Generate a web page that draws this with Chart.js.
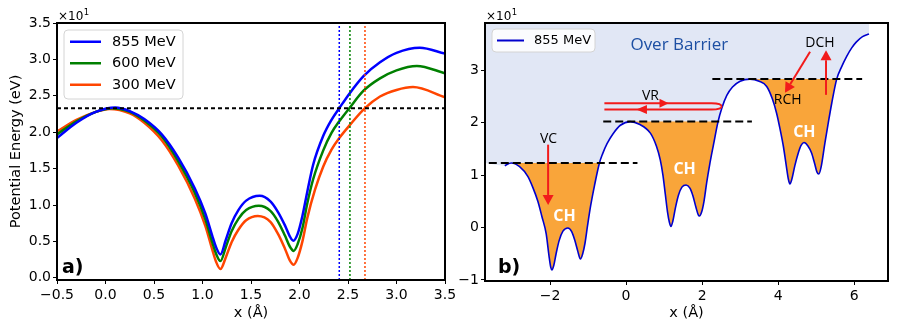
<!DOCTYPE html>
<html>
<head>
<meta charset="utf-8">
<script src="https://cdn.jsdelivr.net/npm/chart.js@4.4.0/dist/chart.umd.min.js"></script>
<style>
  html, body { margin: 0; padding: 0; background: #fff; }
  #wrap { position: relative; width: 897px; height: 333px; overflow: hidden; }
  #chartA { position: absolute; left: 0; top: 0; }
  #chartB { position: absolute; left: 450px; top: 0; }
</style>
</head>
<body>
<div id="wrap">
  <canvas id="chartA" width="470" height="333"></canvas>
  <canvas id="chartB" width="447" height="333"></canvas>
</div>
<script>
// ---- panel a: potential (x10 eV) for three beam energies ----
const labelsA = ['855 MeV', '600 MeV', '300 MeV'];

const x855 = [-0.5, -0.3, -0.1, 0.1, 0.25, 0.4, 0.58, 0.75, 0.92, 1.03, 1.10, 1.14, 1.185, 1.24, 1.30, 1.37, 1.45, 1.59, 1.70, 1.78, 1.85, 1.90, 1.936, 1.98, 2.03, 2.08, 2.14, 2.245, 2.33, 2.41, 2.52, 2.66, 2.83, 3.0, 3.24, 3.5];
const y855 = [1.92, 2.13, 2.28, 2.34, 2.29, 2.18, 1.97, 1.65, 1.23, 0.88, 0.58, 0.42, 0.32, 0.52, 0.75, 0.93, 1.06, 1.127, 1.05, 0.90, 0.72, 0.57, 0.51, 0.60, 0.85, 1.18, 1.55, 1.95, 2.17, 2.33, 2.54, 2.77, 2.96, 3.09, 3.16, 3.08];

const x600 = [-0.5, -0.3, -0.1, 0.07, 0.25, 0.4, 0.58, 0.75, 0.92, 1.03, 1.10, 1.14, 1.185, 1.24, 1.30, 1.37, 1.45, 1.58, 1.70, 1.78, 1.85, 1.90, 1.94, 1.98, 2.03, 2.08, 2.14, 2.245, 2.33, 2.41, 2.52, 2.66, 2.83, 3.0, 3.21, 3.5];
const y600 = [1.97, 2.15, 2.28, 2.33, 2.28, 2.16, 1.94, 1.60, 1.17, 0.80, 0.49, 0.33, 0.23, 0.42, 0.64, 0.81, 0.93, 0.99, 0.92, 0.77, 0.58, 0.43, 0.37, 0.46, 0.68, 1.02, 1.35, 1.75, 1.99, 2.15, 2.34, 2.57, 2.74, 2.85, 2.91, 2.81];

const x300 = [-0.5, -0.3, -0.1, 0.04, 0.25, 0.4, 0.58, 0.75, 0.92, 1.03, 1.10, 1.14, 1.185, 1.24, 1.30, 1.37, 1.45, 1.57, 1.70, 1.78, 1.85, 1.90, 1.94, 1.98, 2.03, 2.08, 2.16, 2.245, 2.33, 2.41, 2.52, 2.675, 2.83, 3.0, 3.17, 3.5];
const y300 = [2.01, 2.17, 2.28, 2.32, 2.26, 2.13, 1.89, 1.54, 1.09, 0.71, 0.39, 0.22, 0.12, 0.28, 0.49, 0.66, 0.79, 0.85, 0.77, 0.60, 0.40, 0.24, 0.18, 0.27, 0.50, 0.82, 1.21, 1.53, 1.76, 1.92, 2.10, 2.33, 2.49, 2.58, 2.62, 2.48];

const barrierA = 2.33;                 // dotted horizontal line
const crossA = [2.41, 2.52, 2.675];    // dotted vertical lines (855, 600, 300)
const colorsA = ['#0000ff', '#008000', '#ff4500'];
const xTicksA = [-0.5, 0, 0.5, 1, 1.5, 2, 2.5, 3, 3.5];
const yTicksA = [0, 0.5, 1, 1.5, 2, 2.5, 3, 3.5];
const xLimA = [-0.5, 3.5];
const yLimA = [-0.03, 3.5];

// ---- panel b: 855 MeV potential over three planes ----
const xCurveB = [-3.19, -3.02, -2.80, -2.58, -2.45, -2.32, -2.21, -2.10, -2.03, -1.98, -1.95, -1.90, -1.84, -1.76, -1.66, -1.53, -1.43, -1.35, -1.27, -1.20, -1.14, -1.08, -1.01, -0.93, -0.83, -0.70, -0.62, -0.50, -0.35, -0.15, 0.11, 0.35, 0.64, 0.80, 0.90, 0.97, 1.03, 1.09, 1.14, 1.18, 1.23, 1.30, 1.38, 1.47, 1.58, 1.68, 1.76, 1.84, 1.90, 1.93, 1.99, 2.05, 2.12, 2.20, 2.30, 2.42, 2.52, 2.65, 2.80, 3.00, 3.26, 3.50, 3.70, 3.85, 3.96, 4.05, 4.14, 4.21, 4.27, 4.31, 4.36, 4.44, 4.53, 4.60, 4.68, 4.78, 4.88, 4.96, 5.02, 5.07, 5.13, 5.23, 5.32, 5.41, 5.54, 5.66, 5.80, 5.94, 6.06, 6.22, 6.39];
const yCurveB = [1.18, 1.23, 1.16, 0.97, 0.76, 0.50, 0.20, -0.12, -0.52, -0.76, -0.81, -0.72, -0.50, -0.25, -0.07, -0.01, -0.08, -0.24, -0.45, -0.60, -0.50, -0.30, 0.05, 0.42, 0.80, 1.23, 1.40, 1.60, 1.78, 1.95, 2.02, 1.97, 1.80, 1.55, 1.29, 1.00, 0.65, 0.30, 0.10, 0.02, 0.12, 0.38, 0.62, 0.77, 0.81, 0.75, 0.60, 0.38, 0.24, 0.22, 0.30, 0.50, 0.85, 1.20, 1.58, 2.02, 2.28, 2.52, 2.68, 2.79, 2.83, 2.79, 2.69, 2.45, 2.18, 1.88, 1.54, 1.20, 0.92, 0.83, 0.92, 1.18, 1.42, 1.56, 1.62, 1.56, 1.42, 1.22, 1.06, 1.02, 1.15, 1.61, 2.00, 2.37, 2.83, 3.05, 3.26, 3.43, 3.54, 3.64, 3.69];

const levelY = [1.23, 2.02, 2.83];       // dashed barrier levels
const levelFrom = [-3.61, -0.60, 2.27];
const levelTo = [0.30, 3.31, 6.21];
const wellFrom = [-3.02, 0.11, 3.26];    // orange channeling regions
const wellTo = [-0.70, 2.42, 5.54];
const xTicksB = [-2, 0, 2, 4, 6];
const yTicksB = [-1, 0, 1, 2, 3];
const xLimB = [-3.71, 6.89];
const yLimB = [-1.02, 3.9];

Chart.defaults.font.family = '"DejaVu Sans", sans-serif';
Chart.defaults.color = '#000';

const pts = (xs, ys) => xs.map((x, i) => ({x: x, y: ys[i]}));
const fmtMinus = s => s.replace('-', '\u2212');

function axes(xLim, yLim, xTicks, yTicks, xDigits, yDigits, yWidth, xHeight, yTitle) {
    return {
        x: {
            type: 'linear', min: xLim[0], max: xLim[1], bounds: 'data',
            afterBuildTicks: s => { s.ticks = xTicks.map(v => ({value: v})); },
            afterFit: s => { s.height = xHeight; },
            ticks: { callback: v => fmtMinus(v.toFixed(xDigits)), font: {size: 14}, padding: 3, maxRotation: 0, autoSkip: false },
            grid: { drawOnChartArea: false, tickLength: 4, color: '#000' },
            border: { display: false },
            title: { display: true, text: 'x (Å)', font: {size: 14.5}, padding: {top: 0, bottom: 11} }
        },
        y: {
            type: 'linear', min: yLim[0], max: yLim[1], bounds: 'data',
            afterBuildTicks: s => { s.ticks = yTicks.map(v => ({value: v})); },
            afterFit: s => { s.width = yWidth; },
            ticks: { callback: v => fmtMinus(v.toFixed(yDigits)), font: {size: 14}, padding: 2 },
            grid: { drawOnChartArea: false, tickLength: 4, color: '#000' },
            border: { display: false },
            title: { display: !!yTitle, text: yTitle, font: {size: 14.5}, padding: {top: 8, bottom: 0} }
        }
    };
}

function offsetText(ctx, x, y) {
    ctx.fillStyle = '#000';
    ctx.textAlign = 'left';
    ctx.textBaseline = 'alphabetic';
    ctx.font = '12px "DejaVu Sans"';
    ctx.fillText('\u00d710', x, y);
    const w = ctx.measureText('\u00d710').width;
    ctx.font = '8.5px "DejaVu Sans"';
    ctx.fillText('1', x + w + 0.5, y - 5);
}

function panelLabel(ctx, text, x, y) {
    ctx.fillStyle = '#000';
    ctx.textAlign = 'left';
    ctx.textBaseline = 'alphabetic';
    ctx.font = 'bold 19px "DejaVu Sans"';
    ctx.fillText(text, x, y);
}

function legendBox(ctx, chart, box, rowH, lineX, textX, font, lw) {
    ctx.save();
    ctx.beginPath();
    ctx.roundRect(box[0], box[1], box[2], box[3], 4);
    ctx.fillStyle = 'rgba(255,255,255,0.85)';
    ctx.fill();
    ctx.strokeStyle = '#d4d4d4';
    ctx.lineWidth = 1;
    ctx.stroke();
    chart.data.datasets.filter(d => d.inLegend).forEach((d, i) => {
        const y = box[1] + rowH / 2 + 1 + i * rowH;
        ctx.strokeStyle = d.borderColor;
        ctx.lineWidth = lw;
        ctx.beginPath();
        ctx.moveTo(lineX[0], y);
        ctx.lineTo(lineX[1], y);
        ctx.stroke();
        ctx.fillStyle = '#000';
        ctx.font = font;
        ctx.textAlign = 'left';
        ctx.textBaseline = 'middle';
        ctx.fillText(d.label, textX, y);
    });
    ctx.restore();
}

const framePlugin = {
    id: 'frame',
    afterDraw(chart) {
        const {ctx, chartArea: a} = chart;
        ctx.save();
        ctx.strokeStyle = '#000';
        ctx.lineWidth = 2;
        ctx.strokeRect(a.left, a.top, a.right - a.left, a.bottom - a.top);
        offsetText(ctx, a.left + 1, 19.5);
        ctx.restore();
    }
};

// panel a datasets
const curvesA = [[x855, y855], [x600, y600], [x300, y300]].map((c, i) => ({
    label: labelsA[i],
    inLegend: true,
    data: pts(c[0], c[1]),
    borderColor: colorsA[i],
    borderWidth: 2.5,
    pointRadius: 0,
    cubicInterpolationMode: 'monotone',
    order: 1
}));
const crossLinesA = crossA.map((x, i) => ({
    data: [{x: x, y: yLimA[0]}, {x: x, y: yLimA[1]}],
    borderColor: colorsA[i],
    borderWidth: 1.5,
    borderDash: [2, 2],
    pointRadius: 0,
    order: 0
}));
const barrierLineA = {
    data: [{x: xLimA[0], y: barrierA}, {x: xLimA[1], y: barrierA}],
    borderColor: '#000',
    borderWidth: 2,
    borderDash: [4, 3],
    pointRadius: 0,
    order: 0
};

new Chart(document.getElementById('chartA'), {
    type: 'line',
    data: { datasets: [...curvesA, barrierLineA, ...crossLinesA] },
    options: {
        responsive: false,
        animation: false,
        devicePixelRatio: 1,
        events: [],
        layout: { padding: {top: 23, right: 25, left: 0, bottom: 0} },
        plugins: { legend: {display: false}, tooltip: {enabled: false} },
        scales: axes(xLimA, yLimA, xTicksA, yTicksA, 1, 1, 57, 53, 'Potential Energy (eV)')
    },
    plugins: [{
        id: 'extrasA',
        afterDatasetsDraw(chart) {
            const ctx = chart.ctx;
            legendBox(ctx, chart, [64, 30, 119, 69], 21.5, [70, 101], 112, '14.5px "DejaVu Sans"', 2.5);
            panelLabel(ctx, 'a)', 62, 273);
        }
    }, framePlugin]
});

// panel b datasets
const curveB = pts(xCurveB, yCurveB);
const overBarrier = {
    data: [{x: xLimB[0], y: levelY[0]}, ...curveB],
    borderWidth: 0,
    pointRadius: 0,
    backgroundColor: '#e1e7f5',
    fill: 'end',
    cubicInterpolationMode: 'monotone',
    order: 3
};
const wells = wellFrom.map((x0, i) => ({
    data: curveB.filter(p => p.x >= x0 - 1e-6 && p.x <= wellTo[i] + 1e-6),
    borderWidth: 0,
    pointRadius: 0,
    backgroundColor: '#f9a53a',
    fill: {value: levelY[i]},
    cubicInterpolationMode: 'monotone',
    order: 2
}));
const levels = levelY.map((y, i) => ({
    data: [{x: levelFrom[i], y: y}, {x: levelTo[i], y: y}],
    borderColor: '#000',
    borderWidth: 2,
    borderDash: [8, 4],
    pointRadius: 0,
    order: 0
}));

function arrow(ctx, x1, y1, x2, y2) {
    const ang = Math.atan2(y2 - y1, x2 - x1);
    const hl = 10, hw = 5.5;
    const bx = x2 - hl * Math.cos(ang), by = y2 - hl * Math.sin(ang);
    ctx.beginPath();
    ctx.moveTo(x1, y1);
    ctx.lineTo(bx, by);
    ctx.stroke();
    ctx.beginPath();
    ctx.moveTo(x2, y2);
    ctx.lineTo(bx + hw * Math.sin(ang), by - hw * Math.cos(ang));
    ctx.lineTo(bx - hw * Math.sin(ang), by + hw * Math.cos(ang));
    ctx.closePath();
    ctx.fill();
}

new Chart(document.getElementById('chartB'), {
    type: 'line',
    data: {
        datasets: [{
            label: '855 MeV',
            inLegend: true,
            data: curveB,
            borderColor: '#0000cd',
            borderWidth: 1.6,
            pointRadius: 0,
            cubicInterpolationMode: 'monotone',
            order: 1
        }, ...levels, ...wells, overBarrier]
    },
    options: {
        responsive: false,
        animation: false,
        devicePixelRatio: 1,
        events: [],
        layout: { padding: {top: 23, right: 9, left: 0, bottom: 0} },
        plugins: { legend: {display: false}, tooltip: {enabled: false} },
        scales: axes(xLimB, yLimB, xTicksB, yTicksB, 0, 0, 35, 52, '')
    },
    plugins: [{
        id: 'extrasB',
        afterDatasetsDraw(chart) {
            const {ctx, scales: {x, y}} = chart;
            const px = v => x.getPixelForValue(v);
            const py = v => y.getPixelForValue(v);
            ctx.save();
            ctx.textAlign = 'center';
            ctx.textBaseline = 'middle';
            ctx.fillStyle = '#1d4fa3';
            ctx.font = '17px "Open Sans"';
            ctx.fillText('Over Barrier', px(1.40), py(3.48));
            ctx.fillStyle = '#fff';
            ctx.font = 'bold 16px "Open Sans"';
            [[-1.62, 0.22], [1.54, 1.10], [4.69, 1.82]].forEach(p => ctx.fillText('CH', px(p[0]), py(p[1])));
            ctx.fillStyle = '#000';
            ctx.font = '14px "Open Sans"';
            ctx.fillText('VC', px(-2.04), py(1.69));
            ctx.fillText('VR', px(0.64), py(2.51));
            ctx.fillText('DCH', px(5.10), py(3.52));
            ctx.fillText('RCH', px(4.25), py(2.43));

            // arrows
            ctx.strokeStyle = '#f21b1b';
            ctx.fillStyle = '#f21b1b';
            ctx.lineWidth = 2;
            arrow(ctx, px(-2.05), py(1.58), px(-2.05), py(0.43));
            arrow(ctx, px(4.84), py(3.35), px(4.18), py(2.57));
            arrow(ctx, px(5.26), py(2.53), px(5.26), py(3.38));

            // volume reflection u-turn
            const top = py(2.37), bot = py(2.25);
            ctx.lineWidth = 1.8;
            ctx.beginPath();
            ctx.moveTo(px(-0.57), top);
            ctx.lineTo(px(2.25), top);
            ctx.bezierCurveTo(px(2.60), top, px(2.60), bot, px(2.25), bot);
            ctx.lineTo(px(-0.57), bot);
            ctx.stroke();
            ctx.beginPath();
            ctx.moveTo(px(1.12), top);
            ctx.lineTo(px(0.88), top - 4.5);
            ctx.lineTo(px(0.88), top + 4.5);
            ctx.closePath();
            ctx.fill();
            ctx.beginPath();
            ctx.moveTo(px(0.27), bot);
            ctx.lineTo(px(0.55), bot - 4.5);
            ctx.lineTo(px(0.55), bot + 4.5);
            ctx.closePath();
            ctx.fill();
            ctx.restore();

            legendBox(ctx, chart, [42, 29, 103, 23], 21, [47, 74], 84, '13px "DejaVu Sans"', 2);
            panelLabel(ctx, 'b)', 48, 273);
        }
    }, framePlugin]
});
</script>
</body>
</html>
